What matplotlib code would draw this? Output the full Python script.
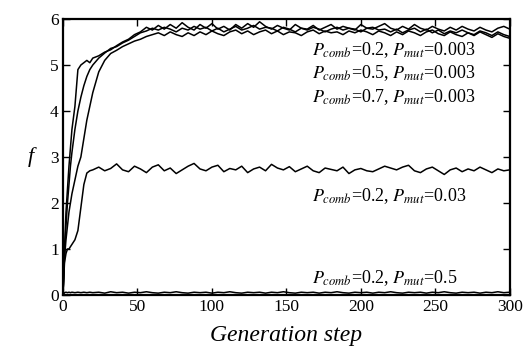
import matplotlib
matplotlib.use("Agg")
import matplotlib.pyplot as plt

plt.rcParams["font.family"] = ["Liberation Serif", "DejaVu Serif"]
plt.rcParams["mathtext.fontset"] = "stix"

# generation steps (denser sampling during the initial rise)
gen = [0, 1, 2, 3, 4, 5, 6, 8, 10, 12, 14, 16, 18, 20] + list(range(24, 301, 4))

# P_comb=0.2, P_mut=0.003
f_a = [0, 1.0, 1.8, 2.3, 2.8, 3.2, 3.6, 4.1, 4.9, 5.0, 5.05, 5.1, 5.05, 5.15,
       5.20, 5.28, 5.33, 5.42, 5.50, 5.56, 5.66, 5.72, 5.82, 5.76,
       5.86, 5.78, 5.88, 5.80, 5.92, 5.82, 5.76, 5.88, 5.80, 5.90,
       5.78, 5.84, 5.76, 5.88, 5.80, 5.90, 5.82, 5.94, 5.84, 5.78,
       5.86, 5.80, 5.76, 5.88, 5.80, 5.78, 5.86, 5.76, 5.82, 5.88,
       5.78, 5.84, 5.80, 5.76, 5.88, 5.80, 5.78, 5.84, 5.90, 5.80,
       5.76, 5.84, 5.78, 5.88, 5.80, 5.76, 5.84, 5.78, 5.74, 5.82,
       5.76, 5.84, 5.78, 5.74, 5.82, 5.76, 5.72, 5.80, 5.84, 5.78]

# P_comb=0.5, P_mut=0.003
f_b = [0, 0.9, 1.5, 2.0, 2.4, 2.8, 3.1, 3.6, 4.0, 4.3, 4.55, 4.75, 4.9, 5.0,
       5.15, 5.26, 5.36, 5.40, 5.48, 5.54, 5.62, 5.70, 5.74, 5.80,
       5.76, 5.82, 5.78, 5.72, 5.80, 5.76, 5.84, 5.78, 5.82, 5.74,
       5.80, 5.72, 5.78, 5.84, 5.76, 5.80, 5.86, 5.78, 5.82, 5.80,
       5.74, 5.82, 5.78, 5.72, 5.80, 5.76, 5.82, 5.78, 5.72, 5.78,
       5.82, 5.76, 5.80, 5.78, 5.72, 5.80, 5.82, 5.76, 5.78, 5.72,
       5.78, 5.70, 5.76, 5.80, 5.72, 5.78, 5.70, 5.76, 5.68, 5.74,
       5.70, 5.76, 5.70, 5.66, 5.74, 5.70, 5.64, 5.72, 5.66, 5.62]

# P_comb=0.7, P_mut=0.003
f_c = [0, 0.8, 1.2, 1.5, 1.8, 2.0, 2.2, 2.5, 2.8, 3.0, 3.4, 3.8, 4.1, 4.4,
       4.85, 5.10, 5.25, 5.32, 5.40, 5.46, 5.52, 5.56, 5.62, 5.66,
       5.70, 5.64, 5.72, 5.66, 5.62, 5.70, 5.64, 5.72, 5.66, 5.74,
       5.68, 5.64, 5.72, 5.76, 5.68, 5.74, 5.66, 5.72, 5.76, 5.68,
       5.74, 5.66, 5.72, 5.70, 5.64, 5.72, 5.76, 5.68, 5.74, 5.70,
       5.72, 5.66, 5.74, 5.70, 5.76, 5.72, 5.66, 5.74, 5.70, 5.64,
       5.72, 5.66, 5.74, 5.70, 5.64, 5.72, 5.76, 5.68, 5.64, 5.72,
       5.66, 5.62, 5.70, 5.64, 5.72, 5.66, 5.60, 5.68, 5.62, 5.58]

# P_comb=0.2, P_mut=0.03
f_d = [0, 0.7, 0.9, 1.0, 1.0, 1.05, 1.1, 1.2, 1.4, 1.9, 2.4, 2.65, 2.7, 2.72,
       2.78, 2.70, 2.75, 2.85, 2.72, 2.68, 2.80, 2.74, 2.66, 2.78,
       2.83, 2.70, 2.76, 2.64, 2.72, 2.80, 2.86, 2.74, 2.70, 2.78,
       2.82, 2.68, 2.75, 2.72, 2.80, 2.66, 2.74, 2.78, 2.70, 2.84,
       2.76, 2.72, 2.79, 2.68, 2.74, 2.80, 2.70, 2.66, 2.76, 2.73,
       2.70, 2.78, 2.64, 2.72, 2.75, 2.70, 2.68, 2.74, 2.80, 2.76,
       2.72, 2.78, 2.82, 2.70, 2.66, 2.74, 2.78, 2.70, 2.62, 2.72,
       2.76, 2.68, 2.74, 2.70, 2.78, 2.72, 2.66, 2.74, 2.70, 2.72]

# P_comb=0.2, P_mut=0.5
f_e = [0, 0.05, 0.06, 0.05, 0.06, 0.05, 0.06, 0.05, 0.06, 0.05, 0.06, 0.05, 0.06, 0.05,
       0.06, 0.04, 0.07, 0.05, 0.06, 0.04, 0.06, 0.05, 0.07, 0.05,
       0.04, 0.06, 0.05, 0.07, 0.05, 0.04, 0.06, 0.05, 0.06, 0.04,
       0.06, 0.05, 0.07, 0.05, 0.04, 0.06, 0.05, 0.06, 0.04, 0.06,
       0.05, 0.07, 0.05, 0.04, 0.06, 0.05, 0.06, 0.04, 0.06, 0.05,
       0.07, 0.05, 0.04, 0.06, 0.05, 0.06, 0.04, 0.06, 0.05, 0.07,
       0.05, 0.04, 0.06, 0.05, 0.06, 0.04, 0.06, 0.05, 0.07, 0.05,
       0.04, 0.06, 0.05, 0.06, 0.04, 0.06, 0.05, 0.07, 0.05, 0.06]

curve_labels = [
    r"$P_{comb}$=0.2, $P_{mut}$=0.003",
    r"$P_{comb}$=0.5, $P_{mut}$=0.003",
    r"$P_{comb}$=0.7, $P_{mut}$=0.003",
    r"$P_{comb}$=0.2, $P_{mut}$=0.03",
    r"$P_{comb}$=0.2, $P_{mut}$=0.5",
]
label_y = [5.33, 4.83, 4.30, 2.15, 0.37]

fig = plt.figure(figsize=(5.25, 3.52), dpi=100)
ax = fig.add_axes([0.12, 0.162, 0.851, 0.784])

for f in [f_a, f_b, f_c, f_d, f_e]:
    ax.plot(gen, f, color="black", linewidth=1.1)

for lab, y in zip(curve_labels, label_y):
    ax.text(167, y, lab, fontsize=13, va="center", ha="left")

ax.set_xlim(0, 300)
ax.set_ylim(0, 6)
ax.set_xticks([0, 50, 100, 150, 200, 250, 300])
ax.set_yticks([0, 1, 2, 3, 4, 5, 6])
ax.tick_params(direction="in", top=True, right=True, length=5, width=1,
               labelsize=12.5, pad=3)
for s in ax.spines.values():
    s.set_linewidth(1.6)

ax.set_xlabel("Generation step", fontsize=17, style="italic", labelpad=7)
ax.set_ylabel("f", fontsize=16, style="italic", rotation=0, labelpad=14, va="center")

fig.savefig("out.png", dpi=100)
